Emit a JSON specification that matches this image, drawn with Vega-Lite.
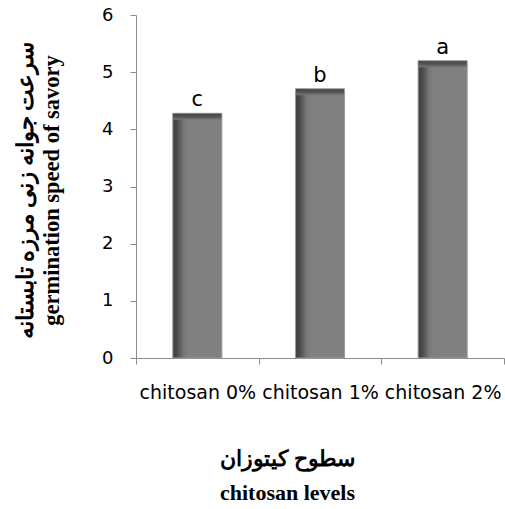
{
  "$schema": "https://vega.github.io/schema/vega-lite/v6.json",
  "autosize": "none",
  "width": 368,
  "height": 343,
  "padding": {"left": 136, "top": 15, "right": 1, "bottom": 151},
  "background": "white",
  "config": {"view": {"stroke": null}},
  "data": {
    "values": [
      {"level": "chitosan 0%", "speed": 4.28, "group": "c"},
      {"level": "chitosan 1%", "speed": 4.71, "group": "b"},
      {"level": "chitosan 2%", "speed": 5.2, "group": "a"}
    ]
  },
  "encoding": {
    "x": {
      "field": "level",
      "type": "nominal",
      "sort": null,
      "scale": {"paddingInner": 0, "paddingOuter": 0},
      "axis": {
        "title": ["سطوح کیتوزان", "chitosan levels"],
        "titleFont": "Liberation Serif",
        "titleFontSize": 22,
        "titleFontWeight": "bold",
        "titleColor": "black",
        "titleX": 151,
        "titleY": 107,
        "titleAlign": "center",
        "titleBaseline": "alphabetic",
        "titleLineHeight": 34,
        "labelAngle": 0,
        "labelFont": "DejaVu Sans",
        "labelFontSize": 19,
        "labelColor": "black",
        "labelPadding": 19,
        "labelBaseline": "top",
        "tickBand": "extent",
        "tickSize": 6,
        "tickColor": "#8c8c8c",
        "domainColor": "#8c8c8c",
        "labelOverlap": false
      }
    },
    "y": {
      "field": "speed",
      "type": "quantitative",
      "scale": {"domain": [0, 6]},
      "axis": {
        "values": [0, 1, 2, 3, 4, 5, 6],
        "grid": false,
        "title": ["سرعت جوانه زنی مرزه تابستانه", "germination speed of savory"],
        "titleFont": "Liberation Serif",
        "titleFontSize": 22.5,
        "titleFontWeight": "bold",
        "titleColor": "black",
        "titleAngle": -90,
        "titleX": -104,
        "titleY": 175,
        "titleAlign": "center",
        "titleBaseline": "alphabetic",
        "titleLineHeight": 26,
        "labelFont": "DejaVu Sans",
        "labelFontSize": 18,
        "labelColor": "black",
        "labelPadding": 17,
        "tickSize": 6,
        "tickColor": "#8c8c8c",
        "domainColor": "#8c8c8c"
      }
    }
  },
  "layer": [
    {
      "mark": {
        "type": "bar",
        "width": {"band": 0.4},
        "stroke": "#9a9a9a",
        "strokeWidth": 1,
        "color": {
          "gradient": "linear",
          "x1": 0, "y1": 0, "x2": 1, "y2": 0,
          "stops": [
            {"offset": 0, "color": "#3e3e3e"},
            {"offset": 0.08, "color": "#484848"},
            {"offset": 0.22, "color": "#767676"},
            {"offset": 0.32, "color": "#808080"},
            {"offset": 1, "color": "#808080"}
          ]
        }
      }
    },
    {
      "mark": {
        "type": "tick",
        "size": 48,
        "thickness": 6,
        "yOffset": 3.5,
        "opacity": 1,
        "color": {
          "gradient": "linear",
          "x1": 0, "y1": 0, "x2": 0, "y2": 1,
          "stops": [
            {"offset": 0, "color": "#454545"},
            {"offset": 0.5, "color": "#555555"},
            {"offset": 1, "color": "#7a7a7a"}
          ]
        }
      }
    },
    {
      "mark": {
        "type": "text",
        "font": "DejaVu Sans",
        "fontSize": 21,
        "baseline": "alphabetic",
        "dy": -7,
        "color": "black"
      },
      "encoding": {"text": {"field": "group"}}
    }
  ]
}
